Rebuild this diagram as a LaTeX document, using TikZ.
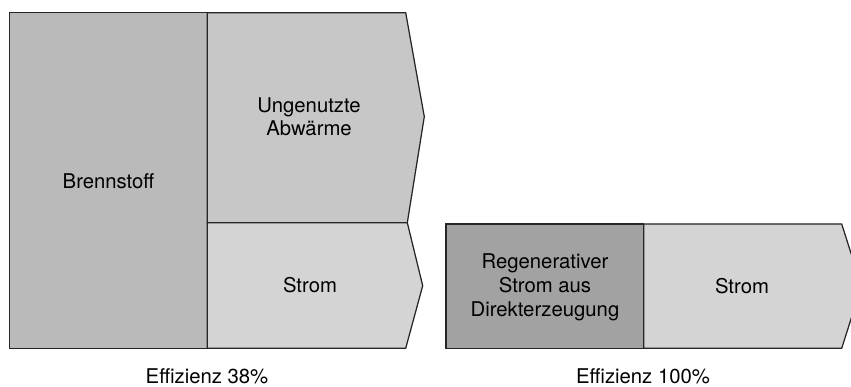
\documentclass[tikz,border=0pt]{standalone}
\usepackage{fontspec}
\setmainfont{TeX Gyre Heros}
\usepackage{tikz}
\usetikzlibrary{positioning,calc}

\definecolor{fuelgray}{HTML}{BABABA}
\definecolor{heatgray}{HTML}{C7C7C7}
\definecolor{powergray}{HTML}{D4D4D4}
\definecolor{renewgray}{HTML}{A2A2A2}

\begin{document}
\begin{tikzpicture}[
  x=1pt, y=-1pt,
  blk/.style={draw=black!85, line width=1.25pt, line join=miter},
  lbl/.style={align=center, inner sep=0pt, font=\fontsize{20.3}{23.5}\selectfont},
  eff/.style={anchor=base, inner sep=0pt, font=\fontsize{20.3}{23}\selectfont}
]
\useasboundingbox (0,0) rectangle (851,387);
% left: conventional plant
\filldraw[blk, fill=fuelgray] (9.3,12.7) rectangle (207.3,348.3);
\filldraw[blk, fill=heatgray] (207.3,12.7) -- (405.7,12.7) -- (424.3,116.7) -- (407.3,222.7) -- (207.3,222.7) -- cycle;
\filldraw[blk, fill=powergray] (207.3,222.7) -- (407.3,222.7) -- (422.7,285.7) -- (405.7,348.3) -- (207.3,348.3) -- cycle;
\node[lbl] (fuel) at (108.5,181.5) {Brennstoff};
\node[lbl] (heat) at (309,117) {Ungenutzte\\Abwärme};
\node[lbl] (powerA) at (310,285.5) {Strom};
\node[eff] (effA) at (207,383) {Effizienz 38\%};
% right: direct generation
\filldraw[blk, fill=renewgray] (446,224) rectangle (643.7,348.3);
\filldraw[blk, fill=powergray] (643.7,224) -- (841.7,224) -- (861.5,286.2) -- (841.7,348.3) -- (643.7,348.3) -- cycle;
\node[lbl] (renew) at (545,287.5) {Regenerativer\\[0.5pt]Strom aus\\[0.5pt]Direkterzeugung};
\node[lbl] (powerB) at (742,286) {Strom};
\node[eff] (effB) at (643,383) {Effizienz 100\%};
\end{tikzpicture}
\end{document}
